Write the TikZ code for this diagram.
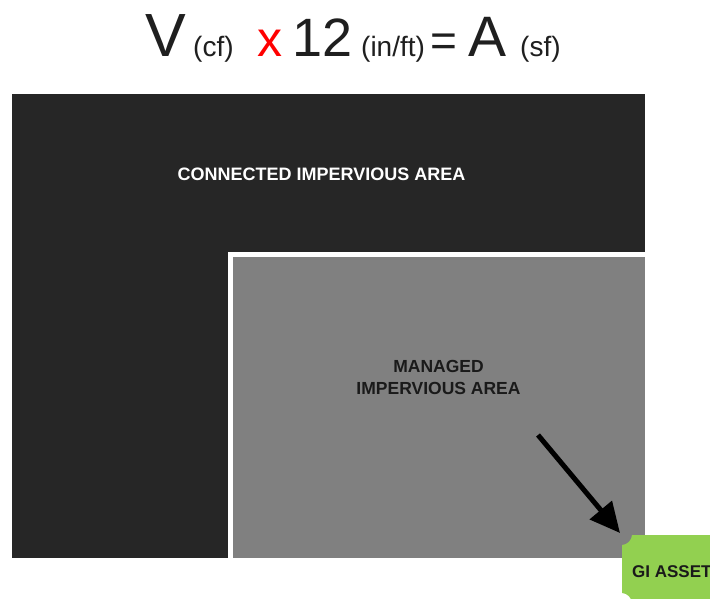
\documentclass[tikz,border=0pt]{standalone}
\usepackage{fontspec}
\setmainfont{Liberation Sans}
\usetikzlibrary{arrows.meta}
\definecolor{darkarea}{HTML}{262626}
\definecolor{grayarea}{HTML}{808080}
\definecolor{giGreen}{HTML}{92D050}
\definecolor{titlegray}{HTML}{1F1F1F}
\definecolor{labeldark}{HTML}{1A1A1A}
\tikzset{
  ttl/.style={anchor=base west, inner sep=0pt, text=titlegray},
  lbl/.style={inner sep=0pt, font=\bfseries\fontsize{18}{22}\selectfont, align=center},
  flowarrow/.style={line width=5pt, -{Triangle[length=30pt,width=28pt]}, black}
}
\begin{document}
\begin{tikzpicture}[x=1pt,y=-1pt]
\clip (0,0) rectangle (710,599);
\fill[white] (0,0) rectangle (710,599);
% areas
\fill[darkarea] (12,94) rectangle (645,558);
\fill[white] (228,252) rectangle (645,558);
\fill[grayarea] (232.5,256.5) rectangle (645,558);
% title
\node[ttl, font=\fontsize{61}{61}\selectfont] (tV) at (145,57) {V};
\node[ttl, font=\fontsize{28}{28}\selectfont] (tcf) at (193,57) {(cf)};
\node[ttl, font=\fontsize{50}{50}\selectfont, text=red] (tx) at (257.5,57) {x};
\node[ttl, font=\fontsize{54}{54}\selectfont] (t12) at (292,57) {12};
\node[ttl, font=\fontsize{28}{28}\selectfont] (tin) at (361,57) {(in/ft)};
\node[ttl, font=\fontsize{46}{46}\selectfont] (teq) at (430,57) {=};
\node[ttl, font=\fontsize{57}{57}\selectfont] (tA) at (468,57) {A};
\node[ttl, font=\fontsize{28}{28}\selectfont] (tsf) at (520,57) {(sf)};
% labels
\node[lbl, text=white] (cia) at (321.5,174.5) {CONNECTED IMPERVIOUS AREA};
\node[lbl, text=labeldark, font=\bfseries\fontsize{17.5}{22}\selectfont] (mia) at (438.5,377) {MANAGED\\IMPERVIOUS AREA};
% GI asset shape
\fill[giGreen] (632,535) -- (730,535) -- (730,603) -- (632,603)
  .. controls (632,598) and (627,593) .. (622,593)
  -- (622,545)
  .. controls (627,545) and (632,540) .. (632,535) -- cycle;
\node[anchor=base west, inner sep=0pt, text=labeldark, font=\bfseries\fontsize{17}{17}\selectfont] (gi) at (632,577) {GI ASSET};
% arrow
\coordinate (a0) at (538,435);
\coordinate (a1) at (620,533);
\draw[flowarrow] (a0) -- (a1);
\end{tikzpicture}
\end{document}
